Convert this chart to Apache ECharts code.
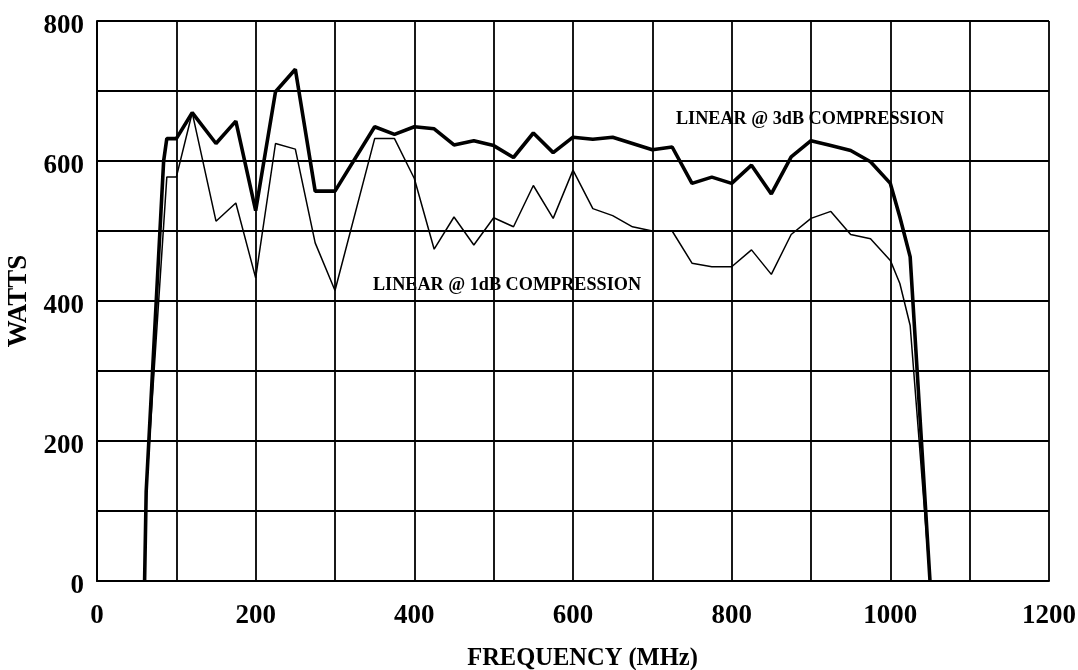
<!DOCTYPE html>
<html>
<head>
<meta charset="utf-8">
<script src="https://cdn.jsdelivr.net/npm/echarts@6/dist/echarts.min.js"></script>
<style>
html,body{margin:0;padding:0;background:#fff;}
#chart{width:1078px;height:670px;}
</style>
</head>
<body>
<div id="chart"></div>
<script>
// LINEAR @ 3dB COMPRESSION (heavy line)
var freq3dB  = [60, 62, 84, 88, 100, 120, 150, 175, 200, 225, 250, 275, 300, 350, 375, 400, 425, 450, 475, 500, 525, 550, 575, 600, 625, 650, 675, 700, 725, 750, 775, 800, 825, 850, 875, 900, 925, 950, 975, 1000, 1012, 1025, 1050];
var watts3dB = [0, 128, 600, 632, 632, 669, 625, 657, 529, 699, 731, 557, 557, 649, 638, 649, 646, 623, 629, 622, 605, 640, 612, 634, 631, 634, 625, 616, 620, 568, 577, 568, 594, 553, 606, 629, 622, 615, 599, 568, 520, 463, 0];

// LINEAR @ 1dB COMPRESSION (thin line)
var freq1dB  = [60, 62, 88, 100, 120, 150, 175, 200, 225, 250, 275, 300, 350, 375, 400, 425, 450, 475, 500, 525, 550, 575, 600, 625, 650, 675, 700, 725, 750, 775, 800, 825, 850, 875, 900, 925, 950, 975, 1000, 1012, 1025, 1050];
var watts1dB = [0, 128, 577, 577, 669, 514, 540, 433, 625, 617, 483, 415, 632, 632, 575, 474, 520, 480, 519, 506, 565, 518, 587, 532, 522, 506, 500, 500, 454, 449, 449, 473, 438, 495, 518, 528, 495, 489, 458, 425, 365, 0];

var xLabelValues = [0, 200, 400, 600, 800, 1000, 1200];
var yLabelValues = [0, 200, 400, 600, 800];

var label3dB = 'LINEAR @ 3dB COMPRESSION';
var label1dB = 'LINEAR @ 1dB COMPRESSION';

function pairs(xs, ys) {
  var out = [];
  for (var i = 0; i < xs.length; i++) out.push([xs[i], ys[i]]);
  return out;
}

var FONT = '"Liberation Serif", "Times New Roman", serif';

var chart = echarts.init(document.getElementById('chart'), null, {renderer: 'canvas'});
chart.setOption({
  animation: false,
  backgroundColor: '#fff',
  grid: {left: 97, right: 29, top: 21, bottom: 89, containLabel: false, outerBoundsMode: 'none'},
  xAxis: {
    type: 'value', min: 0, max: 1200, interval: 100,
    name: 'FREQUENCY (MHz)', nameLocation: 'middle', nameGap: 65,
    nameTextStyle: {fontFamily: FONT, fontWeight: 'bold', fontSize: 24.5, color: '#000', padding: [0, 0, 0, 19]},
    axisLine: {show: true, lineStyle: {color: '#000', width: 2}},
    axisTick: {show: false},
    splitLine: {show: true, lineStyle: {color: '#000', width: 1.8}},
    axisLabel: {
      margin: 22, color: '#000', fontFamily: FONT, fontWeight: 'bold', fontSize: 27,
      formatter: function (v) { return xLabelValues.indexOf(v) >= 0 ? String(v) : ''; }
    }
  },
  yAxis: {
    type: 'value', min: 0, max: 800, interval: 100,
    name: 'WATTS', nameLocation: 'middle', nameGap: 63, nameRotate: 90,
    nameTextStyle: {fontFamily: FONT, fontWeight: 'bold', fontSize: 27, color: '#000'},
    axisLine: {show: true, lineStyle: {color: '#000', width: 2}},
    axisTick: {show: false},
    splitLine: {show: true, lineStyle: {color: '#000', width: 1.8}},
    axisLabel: {
      margin: 13, color: '#000', fontFamily: FONT, fontWeight: 'bold', fontSize: 27,
      formatter: function (v) { return yLabelValues.indexOf(v) >= 0 ? '{d|' + v + '}' : ''; },
      rich: {d: {fontFamily: FONT, fontWeight: 'bold', fontSize: 27, color: '#000', padding: [10, 0, 0, 0]}}
    }
  },
  series: [
    {
      name: label1dB, type: 'line', showSymbol: false, symbol: 'none',
      data: pairs(freq1dB, watts1dB),
      lineStyle: {color: '#000', width: 1.5}, z: 3
    },
    {
      name: label3dB, type: 'line', showSymbol: false, symbol: 'none',
      data: pairs(freq3dB, watts3dB),
      lineStyle: {color: '#000', width: 3.6}, z: 4
    }
  ],
  graphic: [
    {type: 'text', x: 810, y: 119, z: 10,
     style: {text: label3dB, font: 'bold 18.2px ' + FONT, fill: '#000', align: 'center', verticalAlign: 'middle'}},
    {type: 'text', x: 507, y: 285, z: 10,
     style: {text: label1dB, font: 'bold 18.2px ' + FONT, fill: '#000', align: 'center', verticalAlign: 'middle'}}
  ]
});
</script>
</body>
</html>
